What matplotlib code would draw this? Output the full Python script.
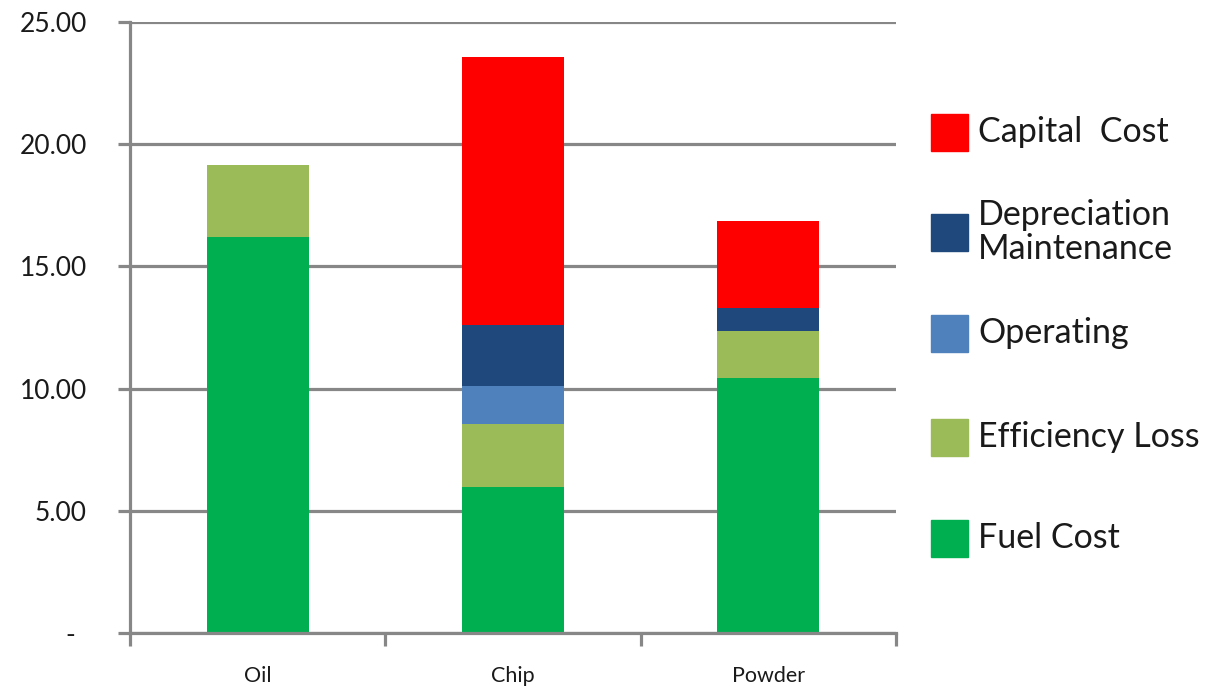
import matplotlib.pyplot as plt
from matplotlib.patches import Rectangle
from matplotlib.ticker import FixedLocator
from matplotlib.transforms import ScaledTranslation

plt.rcParams['font.family'] = ['Lato', 'DejaVu Sans']

categories = ['Oil', 'Chip', 'Powder']
fuel_cost = [16.20, 5.97, 10.43]
efficiency_loss = [2.95, 2.58, 1.93]
operating = [0.00, 1.55, 0.00]
depreciation = [0.00, 2.50, 0.94]
capital_cost = [0.00, 10.97, 3.56]

series_names = ['Fuel Cost', 'Efficiency Loss', 'Operating',
                'Depreciation\nMaintenance', 'Capital  Cost']
series_colors = ['#00B050', '#9BBB59', '#4F81BD', '#1F497D', '#FF0000']
y_ticks = [0, 5, 10, 15, 20, 25]

grey = '#878787'
text_col = '#1a1a1a'

fig = plt.figure(figsize=(12.29, 6.87), dpi=100)
ax = fig.add_axes([130 / 1229, 1 - 633 / 687, 766 / 1229, 611 / 687])

x = list(range(len(categories)))
bottom = [0.0] * len(categories)
all_series = [fuel_cost, efficiency_loss, operating, depreciation, capital_cost]
for vals, name, col in zip(all_series, series_names, series_colors):
    ax.bar(x, vals, width=0.4, bottom=bottom, color=col, label=name, zorder=3)
    bottom = [b + v for b, v in zip(bottom, vals)]

ax.set_xlim(-0.5, len(categories) - 0.5)
ax.set_ylim(0, 25)

# gridlines
ax.set_yticks(y_ticks)
ax.set_yticklabels(['-'] + ['%.2f' % t for t in y_ticks[1:]])
ax.yaxis.grid(True, color=grey, linewidth=2.3, zorder=0)
ax.tick_params(axis='y', length=9, width=2.3, color=grey, pad=22,
               labelsize=19, labelcolor=text_col)

ax.set_xticks(x)
ax.set_xticklabels(categories)
ax.xaxis.set_minor_locator(FixedLocator([-0.5, 0.5, 1.5, 2.5]))
ax.tick_params(axis='x', which='major', length=0, pad=24,
               labelsize=15.5, labelcolor=text_col)
ax.tick_params(axis='x', which='minor', length=9, width=2.3, color=grey)

# excel-style dash for zero sits a bit left of the number column
zero_lbl = ax.get_yticklabels()[0]
zero_lbl.set_transform(zero_lbl.get_transform() +
                       ScaledTranslation(-12 / 100, 0, fig.dpi_scale_trans))

for side in ['top', 'right']:
    ax.spines[side].set_visible(False)
for side in ['left', 'bottom']:
    ax.spines[side].set_color(grey)
    ax.spines[side].set_linewidth(2.3)
    ax.spines[side].set_zorder(4)

# legend, drawn by hand to keep the even spacing
legend_y = [538, 437, 333, 232, 132]
for name, col, yc in zip(series_names, series_colors, legend_y):
    fig.patches.append(Rectangle((931 / 1229, 1 - (yc + 19) / 687), 37 / 1229, 37 / 687,
                                 transform=fig.transFigure, color=col))
    fig.text(978 / 1229, 1 - yc / 687, name, fontsize=24.5, color=text_col,
             va='center', ha='left', linespacing=1.1)

fig.savefig('out.png', dpi=100, facecolor='white')
